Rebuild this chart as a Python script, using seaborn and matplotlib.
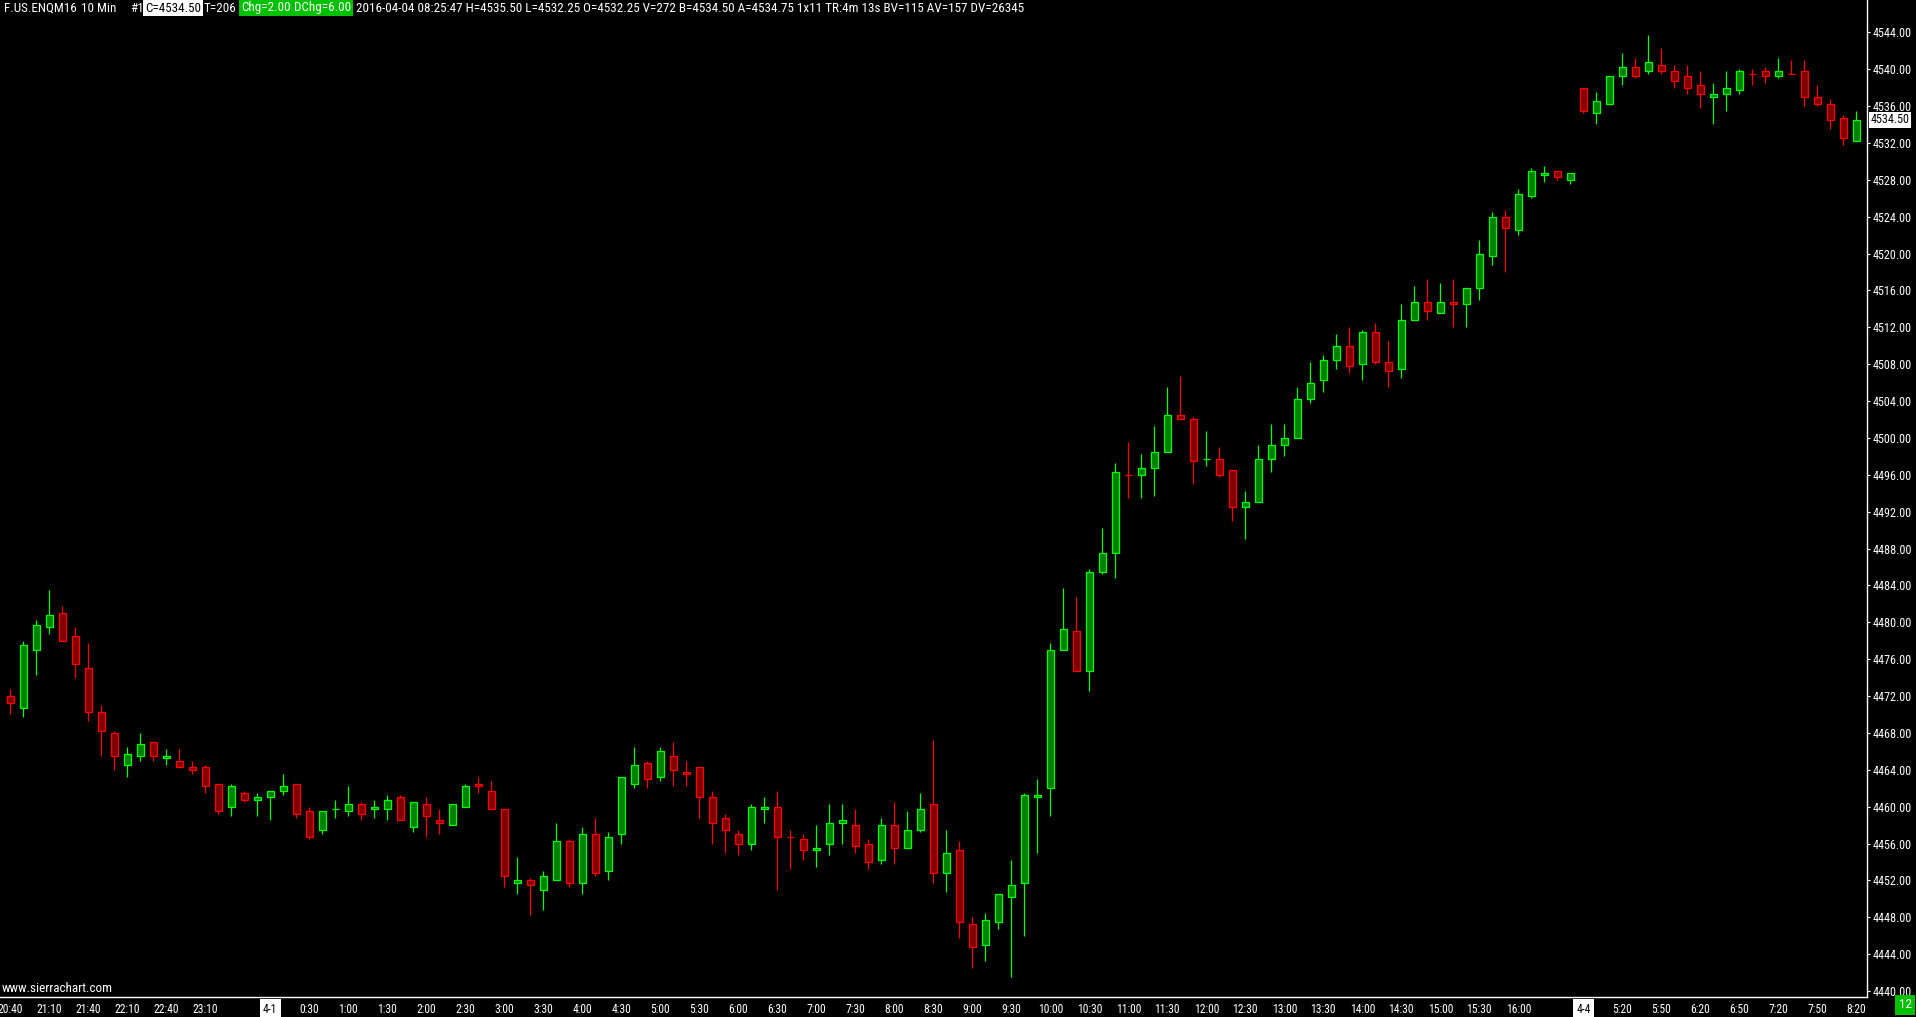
import matplotlib
matplotlib.use('Agg')
import matplotlib.pyplot as plt
import matplotlib.transforms as mtransforms
import numpy as np
import seaborn as sns
from matplotlib import font_manager
from matplotlib.font_manager import FontProperties
from matplotlib.textpath import TextPath

# F.US.ENQM16 10 min bars, 3-31 20:40 -> 4-4 08:20 (oldest first)
opens = [
    4472.0, 4470.75, 4477.0, 4479.5, 4481.0, 4478.5, 4475.0, 4470.25, 4468.0, 4464.5,
    4465.5, 4467.0, 4465.25, 4465.0, 4464.25, 4464.25, 4462.5, 4460.0, 4461.5, 4460.75,
    4461.0, 4461.75, 4462.5, 4459.5, 4457.5, 4459.75, 4459.5, 4460.25, 4459.75, 4459.75,
    4461.0, 4457.75, 4460.25, 4458.5, 4458.0, 4460.0, 4462.5, 4461.75, 4459.75, 4451.75,
    4452.0, 4451.0, 4452.0, 4456.25, 4451.75, 4457.0, 4453.0, 4457.0, 4462.5, 4464.75,
    4463.25, 4465.5, 4463.75, 4464.25, 4461.0, 4458.75, 4457.0, 4456.0, 4459.75, 4460.0,
    4456.75, 4456.5, 4455.25, 4456.0, 4458.25, 4458.0, 4456.0, 4454.25, 4458.0, 4455.5,
    4457.5, 4460.25, 4452.75, 4455.25, 4447.25, 4445.0, 4447.5, 4450.25, 4451.75, 4461.0,
    4462.0, 4477.0, 4479.0, 4474.75, 4485.5, 4487.5, 4496.0, 4496.0, 4496.75, 4498.5,
    4502.5, 4502.0, 4497.75, 4497.75, 4496.5, 4492.5, 4493.0, 4497.75, 4499.25, 4500.0,
    4504.25, 4506.25, 4508.5, 4510.0, 4508.0, 4511.5, 4508.25, 4507.5, 4512.75, 4514.75,
    4513.5, 4514.75, 4514.5, 4516.25, 4519.75, 4524.0, 4522.5, 4526.25, 4528.5, 4529.0,
    4528.0, 4538.0, 4535.25, 4536.25, 4539.25, 4540.25, 4539.75, 4540.5, 4539.75, 4539.25,
    4538.25, 4537.0, 4537.25, 4537.75, 4539.5, 4539.75, 4539.25, 4539.5, 4539.75, 4537.0,
    4536.25, 4534.75, 4532.25]
highs = [
    4472.75, 4478.0, 4480.25, 4483.5, 4481.75, 4479.5, 4477.75, 4471.0, 4468.25, 4466.5,
    4468.0, 4467.0, 4466.25, 4466.25, 4465.0, 4464.5, 4462.5, 4462.5, 4461.75, 4461.5,
    4461.75, 4463.5, 4462.5, 4460.0, 4459.5, 4460.75, 4462.25, 4460.5, 4460.75, 4461.25,
    4461.25, 4460.5, 4461.0, 4459.75, 4460.25, 4462.5, 4463.25, 4462.75, 4459.75, 4454.5,
    4452.25, 4453.0, 4458.25, 4456.5, 4457.75, 4458.75, 4457.25, 4463.25, 4466.5, 4465.0,
    4466.5, 4467.0, 4465.0, 4464.25, 4461.75, 4459.25, 4457.5, 4460.25, 4461.0, 4461.75,
    4457.5, 4457.0, 4458.0, 4460.25, 4460.25, 4459.75, 4456.5, 4458.75, 4460.5, 4459.5,
    4461.5, 4467.25, 4457.5, 4456.25, 4448.0, 4448.5, 4450.5, 4454.25, 4461.5, 4463.0,
    4477.75, 4483.75, 4482.75, 4485.75, 4490.25, 4497.25, 4499.5, 4498.25, 4501.25, 4505.5,
    4506.75, 4502.25, 4500.75, 4499.0, 4496.5, 4494.25, 4499.25, 4501.5, 4501.5, 4505.5,
    4508.25, 4509.0, 4511.25, 4512.0, 4511.75, 4512.5, 4510.5, 4514.5, 4516.5, 4517.25,
    4516.75, 4517.25, 4516.25, 4521.5, 4524.5, 4524.75, 4527.0, 4529.25, 4529.5, 4529.0,
    4528.75, 4538.0, 4537.5, 4539.25, 4541.75, 4541.25, 4543.75, 4542.25, 4540.5, 4540.5,
    4539.75, 4538.5, 4539.75, 4540.0, 4540.0, 4540.25, 4541.25, 4541.0, 4541.0, 4538.25,
    4536.75, 4535.0, 4535.5]
lows = [
    4470.0, 4469.75, 4474.25, 4478.75, 4478.0, 4474.0, 4469.25, 4465.5, 4464.0, 4463.25,
    4465.0, 4465.0, 4464.5, 4464.25, 4463.5, 4461.5, 4459.25, 4459.0, 4460.5, 4459.0,
    4458.5, 4461.25, 4458.75, 4456.5, 4457.0, 4458.75, 4459.0, 4458.5, 4458.75, 4458.5,
    4458.5, 4457.25, 4456.75, 4457.0, 4458.0, 4460.0, 4461.5, 4459.75, 4451.25, 4450.5,
    4448.25, 4448.75, 4452.0, 4451.25, 4450.5, 4452.5, 4452.0, 4456.0, 4462.0, 4462.0,
    4462.75, 4462.25, 4462.25, 4458.75, 4456.0, 4455.0, 4454.75, 4455.25, 4458.25, 4451.0,
    4453.25, 4454.25, 4453.5, 4454.75, 4456.0, 4455.0, 4453.25, 4453.75, 4453.75, 4455.5,
    4457.25, 4451.75, 4450.75, 4445.75, 4442.5, 4443.25, 4446.75, 4441.5, 4446.0, 4455.0,
    4459.0, 4477.0, 4474.75, 4472.5, 4485.25, 4484.75, 4493.5, 4493.5, 4493.75, 4498.5,
    4502.0, 4495.0, 4497.0, 4495.75, 4491.0, 4489.0, 4493.0, 4496.25, 4498.0, 4500.0,
    4503.75, 4505.0, 4507.5, 4507.0, 4506.25, 4508.0, 4505.5, 4506.5, 4512.75, 4512.75,
    4513.5, 4512.0, 4512.0, 4515.0, 4518.75, 4518.0, 4522.0, 4526.0, 4527.75, 4528.0,
    4527.5, 4535.25, 4534.0, 4536.25, 4538.25, 4539.0, 4539.5, 4539.5, 4538.0, 4537.25,
    4535.75, 4534.0, 4535.5, 4537.25, 4538.25, 4538.5, 4539.0, 4539.5, 4536.0, 4536.0,
    4533.5, 4531.75, 4532.25]
closes = [
    4471.25, 4477.5, 4479.75, 4480.75, 4478.0, 4475.5, 4470.25, 4468.25, 4465.5, 4465.75,
    4466.75, 4465.5, 4465.5, 4464.25, 4464.0, 4462.25, 4459.5, 4462.25, 4460.75, 4461.0,
    4461.75, 4462.25, 4459.25, 4456.75, 4459.5, 4459.75, 4460.25, 4459.25, 4460.0, 4460.75,
    4458.5, 4460.5, 4459.0, 4458.25, 4460.25, 4462.25, 4462.25, 4459.75, 4452.5, 4452.0,
    4451.5, 4452.5, 4456.25, 4451.75, 4457.0, 4452.75, 4456.75, 4463.25, 4464.5, 4463.0,
    4466.0, 4464.0, 4463.5, 4461.0, 4458.25, 4457.5, 4456.0, 4460.0, 4460.0, 4456.75,
    4456.75, 4455.25, 4455.5, 4458.25, 4458.5, 4455.75, 4454.0, 4458.0, 4455.5, 4457.5,
    4459.75, 4452.75, 4455.0, 4447.5, 4444.75, 4447.75, 4450.5, 4451.5, 4461.25, 4461.25,
    4477.0, 4479.25, 4474.75, 4485.5, 4487.5, 4496.25, 4496.0, 4496.75, 4498.5, 4502.5,
    4502.0, 4497.5, 4497.75, 4496.0, 4492.5, 4493.0, 4497.75, 4499.25, 4500.0, 4504.25,
    4506.0, 4508.5, 4510.0, 4507.75, 4511.5, 4508.25, 4507.25, 4512.75, 4514.75, 4513.75,
    4514.75, 4514.5, 4516.25, 4520.0, 4524.0, 4522.75, 4526.5, 4529.0, 4528.75, 4528.25,
    4528.75, 4535.5, 4536.5, 4539.25, 4540.25, 4539.25, 4540.75, 4539.75, 4538.75, 4538.0,
    4537.25, 4537.25, 4538.0, 4539.75, 4539.5, 4539.25, 4539.75, 4539.5, 4537.0, 4536.25,
    4534.5, 4532.5, 4534.5]

time_tick_bars = [0, 3, 6, 9, 12, 15, 20, 23, 26, 29, 32, 35, 38, 41, 44, 47, 50, 53,
                  56, 59, 62, 65, 68, 71, 74, 77, 80, 83, 86, 89, 92, 95, 98, 101, 104,
                  107, 110, 113, 116, 121, 124, 127, 130, 133, 136, 139, 142]
time_tick_labels = ['20:40', '21:10', '21:40', '22:10', '22:40', '23:10', '4-1', '0:30',
                    '1:00', '1:30', '2:00', '2:30', '3:00', '3:30', '4:00', '4:30', '5:00',
                    '5:30', '6:00', '6:30', '7:00', '7:30', '8:00', '8:30', '9:00', '9:30',
                    '10:00', '10:30', '11:00', '11:30', '12:00', '12:30', '13:00', '13:30',
                    '14:00', '14:30', '15:00', '15:30', '16:00', '4-4', '5:20', '5:50',
                    '6:20', '6:50', '7:20', '7:50', '8:20']
price_ticks = list(np.arange(4440, 4545, 4))
last_price = 4534.50

header_parts = ['F.US.ENQM16', '10 Min', '#1', 'C=4534.50', 'T=206', 'Chg=2.00', 'DChg=6.00',
                '2016-04-04 08:25:47 H=4535.50 L=4532.25 O=4532.25 V=272 B=4534.50 '
                'A=4534.75 1x11 TR:4m 13s BV=115 AV=157 DV=26345']

sns.set_theme(style='dark', rc={'axes.facecolor': 'black', 'figure.facecolor': 'black'})

# pick a narrow face if one is installed, else Liberation Sans
installed = {f.name for f in font_manager.fontManager.ttflist}
FONT = next((n for n in ['Liberation Sans Narrow', 'Roboto Condensed', 'Noto Sans Condensed',
                         'Liberation Sans'] if n in installed), 'DejaVu Sans')
plt.rcParams['font.family'] = [FONT, 'DejaVu Sans']


def fit_size(text, width_px, max_size=10.5):
  # font size (pt) giving the text the wanted pixel width at 100 dpi
  w = TextPath((0, 0), text, size=10, prop=FontProperties(family=FONT)).get_extents().width
  return min(max_size, 10 * width_px * 0.72 / w)


UP_EDGE, UP_FILL = '#00ff00', '#008000'
DN_EDGE, DN_FILL = '#ff0000', '#800000'

# bar colours (doji take direction from previous close, else keep previous colour)
up = []
for i in range(len(opens)):
  if closes[i] != opens[i]:
    up.append(closes[i] > opens[i])
  elif i > 0 and closes[i] != closes[i - 1]:
    up.append(closes[i] > closes[i - 1])
  else:
    up.append(up[-1] if up else True)
up = np.array(up)
x = np.arange(len(opens))
o, h, l, c = map(np.array, (opens, highs, lows, closes))
edge = np.where(up, UP_EDGE, DN_EDGE)
fill = np.where(up, UP_FILL, DN_FILL)

fig = plt.figure(figsize=(19.16, 10.17), dpi=100)
ax = fig.add_axes([0, 1 - 997 / 1017, 1867 / 1916, 997 / 1017])
ax.set_facecolor('black')

ax.vlines(x, l, h, colors=edge, linewidth=0.9, zorder=1)
ax.bar(x, np.abs(c - o), bottom=np.minimum(o, c), width=0.58, color=fill,
       edgecolor=edge, linewidth=0.9, zorder=2)

ax.set_xlim(-0.792, 142.82)
ax.set_ylim(4439.35, 4547.5)
ax.grid(False)

for side in ['left', 'top']:
  ax.spines[side].set_visible(False)
for side in ['right', 'bottom']:
  ax.spines[side].set_color('white')
  ax.spines[side].set_linewidth(1.0)

yfs = fit_size('4544.00', 38)
xfs = fit_size('10:00', 24)
ax.yaxis.tick_right()
ax.set_yticks(price_ticks, [f'{p:.2f}' for p in price_ticks])
ax.set_xticks(time_tick_bars, time_tick_labels)
ax.tick_params(axis='both', colors='white', labelcolor='white', length=2.5, width=0.8,
               direction='out')
ax.tick_params(axis='x', pad=1.5, labelsize=xfs)
ax.tick_params(axis='y', pad=1.5, labelsize=yfs)
for lbl in ax.get_xticklabels():
  if '-' in lbl.get_text():
    lbl.set_color('black')
    lbl.set_bbox(dict(boxstyle='square,pad=0.3', fc='white', ec='none'))

trans = mtransforms.blended_transform_factory(ax.transAxes, ax.transData)
ax.text(1.0018, last_price, f'{last_price:.2f}', transform=trans, ha='left', va='center',
        fontsize=yfs, color='black', clip_on=False,
        bbox=dict(boxstyle='square,pad=0.12', fc='white', ec='none'))

# header line, x positions and widths in pixels
hy = 1 - 8 / 1017
hfs = fit_size(header_parts[-1], 665)
header_x = [4, 81, 130, 145, 204, 241, 294, 356]
header_box = [None, None, None, 'white', None, '#00c000', '#00c000', None]
for txt, px, box in zip(header_parts, header_x, header_box):
  kw = {}
  if box:
    kw['bbox'] = dict(boxstyle='square,pad=0.12', fc=box, ec='none')
  fig.text(px / 1916, hy, txt, color='black' if box == 'white' else 'white',
           fontsize=hfs, va='center', **kw)

fig.text(2 / 1916, 1 - 988 / 1017, 'www.sierrachart.com', color='white',
         fontsize=fit_size('www.sierrachart.com', 110), va='center')
fig.text(1905 / 1916, 1 - 1005 / 1017, '12', color='white', fontsize=yfs * 1.1, ha='center',
         va='center', bbox=dict(boxstyle='square,pad=0.3', fc='#00c000', ec='none'))

fig.savefig('out.png', dpi=100, facecolor='black')
